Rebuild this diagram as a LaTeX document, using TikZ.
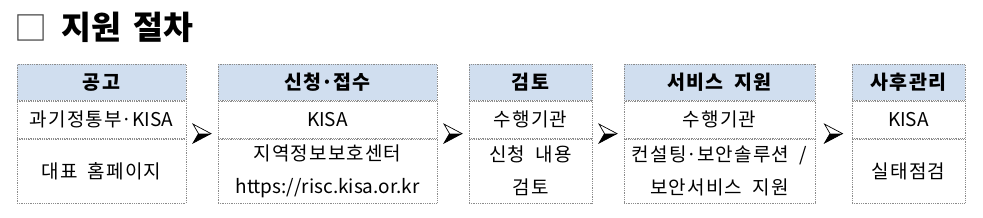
\documentclass[tikz,border=0pt]{standalone}
\usepackage{fontspec}
\setmainfont{Noto Sans CJK KR}[LetterSpace=6, WordSpace=1.9]
\newfontfamily\latfont{Noto Sans CJK KR}
\newfontfamily\titlefont{Noto Sans CJK KR}[WordSpace=1.7]
\newcommand{\lat}[1]{{\latfont #1}}
\usetikzlibrary{calc}
\definecolor{hdrfill}{HTML}{D0DEEF}
\definecolor{bordergray}{HTML}{8C8C8C}
\tikzset{
  cellbase/.style={draw=bordergray, densely dotted, line width=0.8pt, inner sep=0pt, anchor=north, align=center,
    font=\fontsize{19}{33}\selectfont},
  hdr/.style={cellbase, fill=hdrfill, minimum height=36pt, font=\fontsize{19.5}{33}\selectfont\bfseries},
  rowa/.style={cellbase, minimum height=37pt},
  rowb/.style={cellbase, minimum height=64pt},
  arrowhd/.pic={
    \draw[line width=0.7pt, line join=miter] (-9,-9.5) -- (9,0) -- (-9,9.5) -- (-3.5,0) -- cycle;
    \fill (-3.5,0) -- (9,0) -- (-9,9.5) -- cycle;
  }
}
\begin{document}
\begin{tikzpicture}[x=1pt,y=-1pt]
\useasboundingbox (0,0) rectangle (983,217);
% title
\node[anchor=west, inner sep=0pt, font=\fontsize{33}{34}\selectfont, text=black!75] (sq) at (14,28) {□};
\node[anchor=west, inner sep=0pt, font=\titlefont\fontsize{32.5}{34}\selectfont\bfseries] (title) at (61,27) {지원 절차};
% box 1
\node[hdr, minimum width=169pt] (h1) at (101.5,64) {공고};
\node[rowa, minimum width=169pt] (a1) at (h1.south) {과기정통부\lat{·KISA}};
\node[rowb, minimum width=169pt] (b1) at (a1.south) {대표 홈페이지};
% box 2
\node[hdr, minimum width=219pt] (h2) at (327.5,64) {신청\lat{·}접수};
\node[rowa, minimum width=219pt] (a2) at (h2.south) {\lat{KISA}};
\node[rowb, minimum width=219pt] (b2) at (a2.south) {지역정보보호센터\\\lat{https://risc.kisa.or.kr}};
% box 3
\node[hdr, minimum width=123pt] (h3) at (530.5,64) {검토};
\node[rowa, minimum width=123pt] (a3) at (h3.south) {수행기관};
\node[rowb, minimum width=123pt] (b3) at (a3.south) {신청 내용\\검토};
% box 4
\node[hdr, minimum width=191pt] (h4) at (719.5,64) {서비스 지원};
\node[rowa, minimum width=191pt] (a4) at (h4.south) {수행기관};
\node[rowb, minimum width=191pt] (b4) at (a4.south) {컨설팅\lat{·}보안솔루션 \lat{/}\\보안서비스 지원};
% box 5
\node[hdr, minimum width=113pt] (h5) at (908.5,64) {사후관리};
\node[rowa, minimum width=113pt] (a5) at (h5.south) {\lat{KISA}};
\node[rowb, minimum width=113pt] (b5) at (a5.south) {실태점검};
% arrows
\coordinate (m1) at ($([yshift=5pt]a1.south east)!0.5!([yshift=5pt]a2.south west)$);
\coordinate (m2) at ($([yshift=5pt]a2.south east)!0.5!([yshift=5pt]a3.south west)$);
\coordinate (m3) at ($([yshift=5pt]a3.south east)!0.5!([yshift=5pt]a4.south west)$);
\coordinate (m4) at ($([yshift=5pt]a4.south east)!0.5!([yshift=5pt]a5.south west)$);
\pic at (m1) {arrowhd};
\pic at (m2) {arrowhd};
\pic at (m3) {arrowhd};
\pic at (m4) {arrowhd};
\end{tikzpicture}
\end{document}
